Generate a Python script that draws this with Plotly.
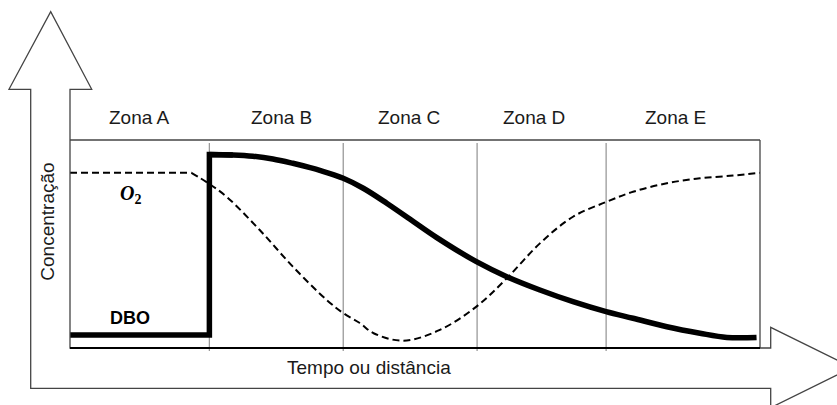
import plotly.graph_objects as go

# box spans x 0..100 (time/distance) and y 0..100 (concentration)
zone_names = ["Zona A", "Zona B", "Zona C", "Zona D", "Zona E"]
zone_label_x = [10.0, 30.6, 49.1, 67.2, 87.8]
zone_bounds = [20.2, 39.6, 59.0, 77.7]

# DBO: flat, sudden jump, then decay
dbo_step_x = [0, 20.2, 20.2]
dbo_step_y = [6.25, 6.25, 93.0]
dbo_decay_x = [20.2, 23.6, 26.5, 29.4, 32.3, 34.8, 36.2, 39.6, 42.5, 45.9, 49.8, 53.1,
               58.9, 63.3, 68.1, 72.9, 77.7, 81.6, 86.5, 91.3, 95.2, 99.5]
dbo_decay_y = [93.0, 92.8, 92.2, 90.9, 88.8, 86.7, 85.4, 81.6, 76.8, 69.6, 60.7, 53.2,
               41.5, 34.3, 27.9, 22.3, 17.5, 14.3, 10.2, 7.1, 5.1, 5.1]

# dissolved oxygen: flat, sag, recovery
o2_flat_x = [0, 17.6]
o2_flat_y = [84.2, 84.2]
o2_sag_x = [17.6, 20.0, 22.7, 27.5, 32.3, 37.2, 39.6, 42.0, 44.0, 48.3, 53.6, 58.9,
            63.3, 68.1, 72.9, 77.7, 81.6, 86.5, 91.3, 96.1, 100]
o2_sag_y = [84.2, 79.3, 72.7, 56.7, 39.1, 23.1, 16.8, 12.0, 7.1, 3.5, 8.7, 19.9,
            33.5, 50.3, 63.1, 70.2, 75.1, 79.2, 81.6, 82.9, 84.2]

W, H = 837, 405
L, R, T, B = 70, 760, 140, 348


def paper(px, py):
    return (px - L) / (R - L), (B - py) / (B - T)


fig = go.Figure()

dash = "7px,4px"
fig.add_trace(go.Scatter(x=o2_flat_x, y=o2_flat_y, mode="lines",
                         line=dict(color="black", width=2, dash=dash)))
fig.add_trace(go.Scatter(x=o2_sag_x, y=o2_sag_y, mode="lines", line_shape="spline",
                         line=dict(color="black", width=2, dash=dash)))
fig.add_trace(go.Scatter(x=dbo_step_x + dbo_decay_x[1:2], y=dbo_step_y + dbo_decay_y[1:2],
                         mode="lines", line=dict(color="black", width=5.5)))
fig.add_trace(go.Scatter(x=dbo_decay_x, y=dbo_decay_y, mode="lines", line_shape="spline",
                         line=dict(color="black", width=5.5)))

shapes = []
for b in zone_bounds:
    shapes.append(dict(type="line", xref="x", yref="paper", x0=b, x1=b,
                       y0=paper(0, 351)[1], y1=paper(0, 143)[1],
                       line=dict(color="#9a9a9a", width=1.3), layer="below"))
shapes.append(dict(type="line", xref="paper", yref="paper", x0=0, x1=1, y0=1, y1=1,
                   line=dict(color="#444", width=1.3)))
shapes.append(dict(type="line", xref="paper", yref="paper", x0=1, x1=1, y0=0, y1=1,
                   line=dict(color="#444", width=1.3)))

# outline of the two big axis arrows
outline = [(30.7, 388.3), (30.7, 89.3), (9, 89.3), (50.7, 11.7), (91.7, 89.3),
           (70, 89.3), (70, 348), (770.7, 348), (770.7, 327.3), (852, 367.5),
           (770.7, 407.7), (770.7, 388.3)]
pts = [paper(*p) for p in outline]
path = "M " + " L ".join(f"{x:.5f},{y:.5f}" for x, y in pts) + " Z"
shapes.append(dict(type="path", xref="paper", yref="paper", path=path,
                   line=dict(color="#444", width=1.3)))
shapes.append(dict(type="line", xref="paper", yref="paper", x0=0, x1=1, y0=0, y1=0,
                   line=dict(color="black", width=2.2)))

font = dict(family="Liberation Sans, Arial, sans-serif", size=19, color="#1a1a1a")
mid = dict(showarrow=False, xanchor="center", yanchor="middle")
ann = []
for name, x in zip(zone_names, zone_label_x):
    ann.append(dict(x=x, xref="x", y=paper(0, 117.5)[1], yref="paper", text=name,
                    font=font, **mid))
ann.append(dict(x=paper(368.5, 0)[0], xref="paper", y=paper(0, 367)[1], yref="paper",
                text="Tempo ou distância", font=font, **mid))
ann.append(dict(x=paper(48, 0)[0], xref="paper", y=paper(0, 221.7)[1], yref="paper",
                text="Concentração", textangle=-90, font=font, **mid))
ann.append(dict(x=8.7, y=14.4, text="<b>DBO</b>",
                font=dict(family="Liberation Sans, Arial", size=18, color="black"), **mid))
ann.append(dict(x=8.8, y=74, text="<b><i>O</i><sub>2</sub></b>",
                font=dict(family="Liberation Serif, DejaVu Serif, serif", size=20, color="black"),
                **mid))

fig.update_layout(
    width=W, height=H, autosize=False,
    margin=dict(l=L, r=W - R, t=T, b=H - B, pad=0),
    paper_bgcolor="white", plot_bgcolor="white",
    showlegend=False,
    xaxis=dict(range=[0, 100], visible=False, fixedrange=True),
    yaxis=dict(range=[0, 100], visible=False, fixedrange=True),
    shapes=shapes, annotations=ann,
)

fig.write_html("out.html", config={"displayModeBar": False},
               post_script="document.body.style.margin='0';document.body.style.overflow='hidden';")
